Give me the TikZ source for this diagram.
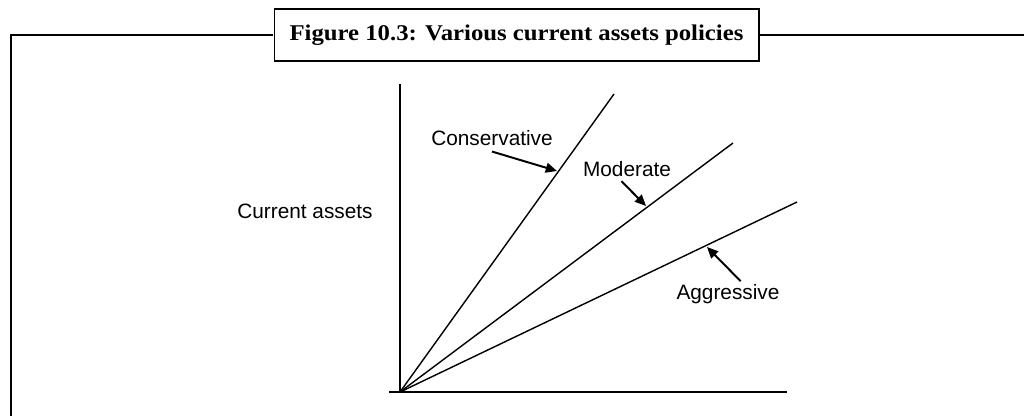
\documentclass[tikz,border=0pt]{standalone}
\usepackage{fontspec}
\setmainfont{Liberation Serif}
\setsansfont{Liberation Sans}
\usetikzlibrary{arrows.meta}

\begin{document}
\begin{tikzpicture}[x=0.025cm, y=-0.025cm,
    policy/.style={line width=1pt},
    axis/.style={line width=1.3pt},
    pointer/.style={line width=1.4pt, -{Triangle[length=8pt, width=7pt]}},
    lbl/.style={font=\sffamily\fontsize{14.8}{17}\selectfont, inner sep=0pt}]

    \useasboundingbox (0,0) rectangle (1024,415);

    % Title box sitting on the frame line
    \node[draw, line width=1.3pt, xscale=1.1, minimum width=313pt, minimum height=37pt, inner sep=0pt,
          font=\bfseries\fontsize{16}{19}\selectfont] (title) at (516.5,35) {Figure 10.3: Various current assets policies};

    % Frame
    \coordinate (frameleft) at (11,35);
    \coordinate (framebottom) at (11,420);
    \coordinate (frameright) at (1030,35);
    \draw[axis] (title.west) -- (frameleft) -- (framebottom);
    \draw[axis] (title.east) -- (frameright);

    % Axes
    \coordinate (O) at (400,392);
    \coordinate (ytop) at (400,84);
    \coordinate (xleft) at (389,392);
    \coordinate (xright) at (787,392);
    \draw[axis] (ytop) -- (O);
    \draw[axis] (xleft) -- (xright);

    % Policy lines
    \coordinate (C) at (614,94);
    \coordinate (M) at (733,143);
    \coordinate (A) at (797,202);
    \draw[policy] (O) -- (C);
    \draw[policy] (O) -- (M);
    \draw[policy] (O) -- (A);

    % Labels
    \node[lbl] (ylabel) at (305,211) {Current assets};
    \node[lbl] (conslabel) at (492,138) {Conservative};
    \node[lbl] (modlabel) at (627,169) {Moderate};
    \node[lbl] (agglabel) at (728,294) {Aggressive};

    % Pointers to the lines
    \coordinate (ctip) at (557,171);
    \coordinate (mtip) at (646,206);
    \coordinate (atip) at (707,247);
    \draw[pointer] ([yshift=-4pt]conslabel.south) -- (ctip);
    \draw[pointer] ([xshift=-4pt, yshift=-3pt]modlabel.south) -- (mtip);
    \draw[pointer] ([xshift=9pt, yshift=2pt]agglabel.north) -- (atip);

\end{tikzpicture}
\end{document}
